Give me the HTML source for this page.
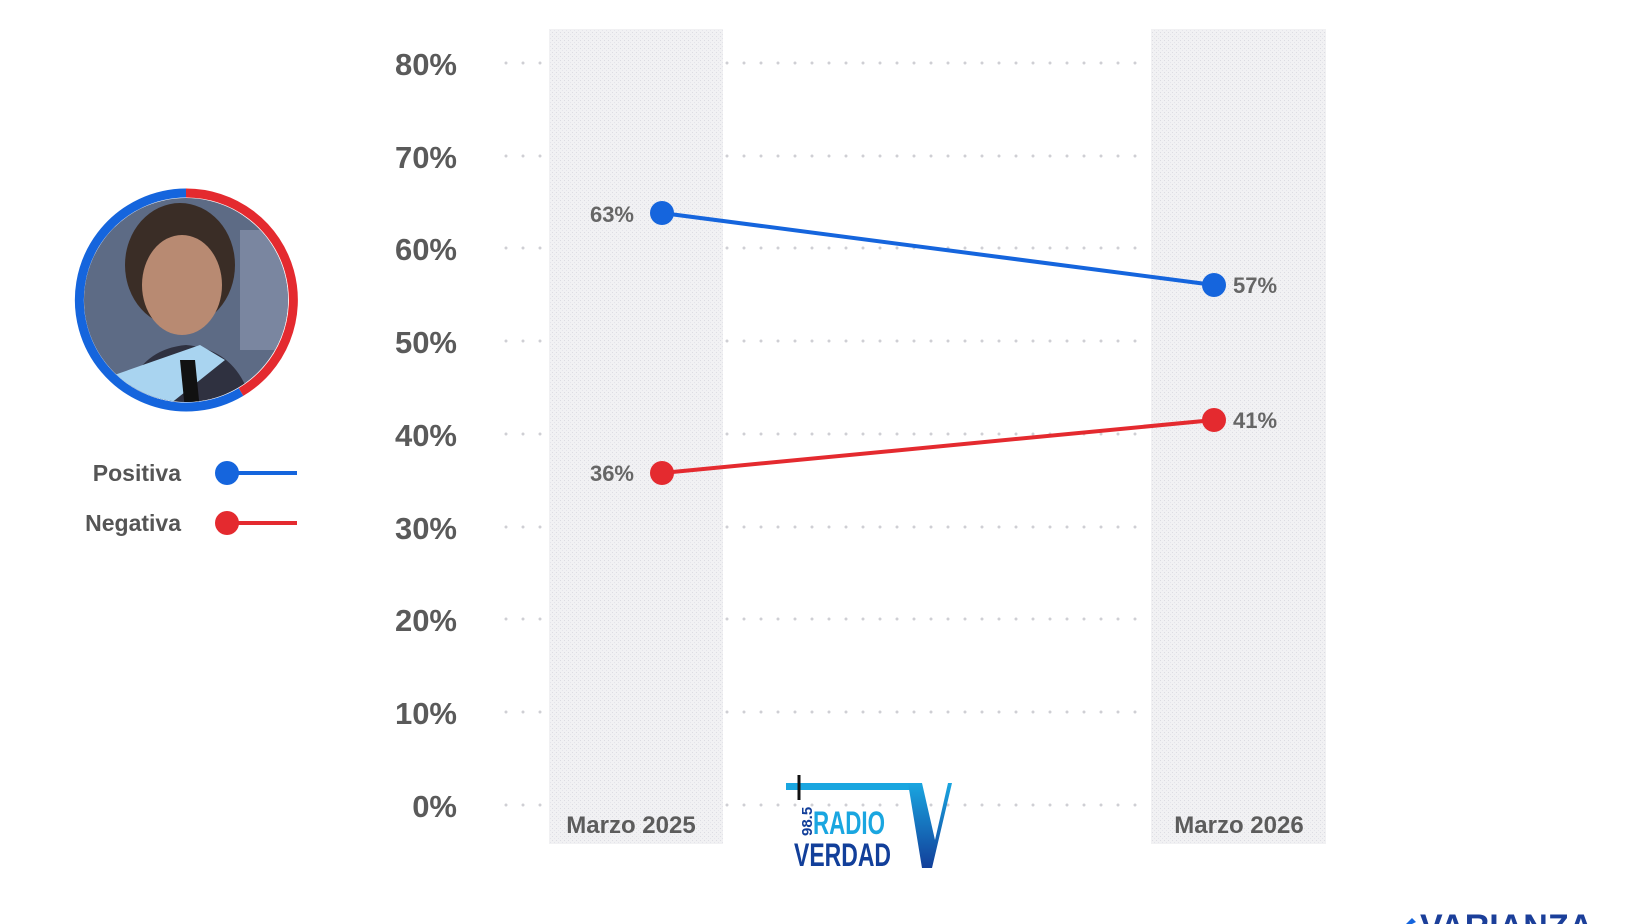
<!DOCTYPE html>
<html><head><meta charset="utf-8"><style>
html,body{margin:0;padding:0;background:#fff;}
svg{display:block;font-family:"Liberation Sans",sans-serif;}
</style></head><body>
<svg width="1640" height="924" viewBox="0 0 1640 924" xmlns="http://www.w3.org/2000/svg">
<defs>
<pattern id="dots" width="4" height="4" patternUnits="userSpaceOnUse">
<rect width="4" height="4" fill="#f1f1f3"/><rect width="1" height="1" fill="#dcdce2"/><rect x="2" y="2" width="1" height="1" fill="#e4e4ea"/>
</pattern>
<clipPath id="cc"><circle cx="186" cy="300" r="102"/></clipPath>
<linearGradient id="vg" x1="0" y1="0" x2="0" y2="1"><stop offset="0" stop-color="#1aa6e0"/><stop offset="1" stop-color="#123f9a"/></linearGradient>
</defs>
<!-- gridlines -->
<g stroke="#cfcfd4" stroke-width="3" stroke-linecap="round" stroke-dasharray="0 17">
<line x1="506" y1="63" x2="1146" y2="63"/>
<line x1="506" y1="156" x2="1146" y2="156"/>
<line x1="506" y1="248" x2="1146" y2="248"/>
<line x1="506" y1="341" x2="1146" y2="341"/>
<line x1="506" y1="434" x2="1146" y2="434"/>
<line x1="506" y1="527" x2="1146" y2="527"/>
<line x1="506" y1="619" x2="1146" y2="619"/>
<line x1="506" y1="712" x2="1146" y2="712"/>
<line x1="506" y1="805" x2="1146" y2="805"/>
</g>
<!-- bands -->
<rect x="549" y="29" width="174" height="815" fill="url(#dots)"/>
<rect x="1151" y="29" width="175" height="815" fill="url(#dots)"/>
<!-- y labels -->
<g font-size="31" font-weight="bold" fill="#5a5a5a" text-anchor="end">
<text x="457" y="75">80%</text>
<text x="457" y="168">70%</text>
<text x="457" y="260">60%</text>
<text x="457" y="353">50%</text>
<text x="457" y="446">40%</text>
<text x="457" y="539">30%</text>
<text x="457" y="631">20%</text>
<text x="457" y="724">10%</text>
<text x="457" y="817">0%</text>
</g>
<g font-size="24" font-weight="bold" fill="#5c5c5c" text-anchor="middle">
<text x="631" y="833">Marzo 2025</text>
<text x="1239" y="833">Marzo 2026</text>
</g>
<!-- series -->
<line x1="662" y1="213" x2="1214" y2="285" stroke="#1565dd" stroke-width="4"/>
<line x1="662" y1="473" x2="1214" y2="420" stroke="#e42a2f" stroke-width="4"/>
<circle cx="662" cy="213" r="12" fill="#1565dd"/>
<circle cx="1214" cy="285" r="12" fill="#1565dd"/>
<circle cx="662" cy="473" r="12" fill="#e42a2f"/>
<circle cx="1214" cy="420" r="12" fill="#e42a2f"/>
<g font-size="22" font-weight="bold" fill="#666">
<text x="634" y="222" text-anchor="end">63%</text>
<text x="634" y="481" text-anchor="end">36%</text>
<text x="1233" y="293">57%</text>
<text x="1233" y="428">41%</text>
</g>
<!-- portrait -->
<g clip-path="url(#cc)">
<rect x="80" y="195" width="215" height="215" fill="#5d6b85"/>
<rect x="240" y="230" width="60" height="120" fill="#7a86a0"/>
<path d="M120 420 Q130 350 186 345 Q245 350 255 420Z" fill="#2f3140"/>
<path d="M100 380 L200 345 L225 360 L150 420Z" fill="#a9d4f0"/>
<path d="M180 360 L195 360 L200 410 L185 410Z" fill="#111"/>
<ellipse cx="180" cy="265" rx="55" ry="62" fill="#3a2d26"/>
<ellipse cx="182" cy="285" rx="40" ry="50" fill="#b88a72"/>
</g>
<path d="M186 193 A107 107 0 0 1 241 392" fill="none" stroke="#e42a2f" stroke-width="9"/>
<path d="M241 392 A107 107 0 1 1 186 193" fill="none" stroke="#1565dd" stroke-width="9"/>
<!-- legend -->
<g font-size="23" font-weight="bold" fill="#555" text-anchor="end">
<text x="181" y="481">Positiva</text>
<text x="181" y="531">Negativa</text>
</g>
<line x1="227" y1="473" x2="297" y2="473" stroke="#1565dd" stroke-width="4"/>
<circle cx="227" cy="473" r="12" fill="#1565dd"/>
<line x1="227" y1="523" x2="297" y2="523" stroke="#e42a2f" stroke-width="4"/>
<circle cx="227" cy="523" r="12" fill="#e42a2f"/>
<!-- logo -->
<path d="M786 783 L916 783 L920 790 L786 790Z" fill="#1aa6e0"/>
<path d="M908 783 L922 783 L935 840 L948 783 L952 783 L932 868 L922 868Z" fill="url(#vg)"/>
<line x1="799" y1="775" x2="799" y2="800" stroke="#111" stroke-width="3"/>
<text x="0" y="0" transform="translate(812,836) rotate(-90)" font-size="15" font-weight="bold" fill="#123f9a">98.5</text>
<text x="813" y="834" font-size="32" font-weight="bold" fill="#1aa6e0" textLength="72" lengthAdjust="spacingAndGlyphs">RADIO</text>
<text x="794" y="866" font-size="32" font-weight="bold" fill="#123f9a" textLength="97" lengthAdjust="spacingAndGlyphs">VERDAD</text>
<!-- varianza -->
<path d="M1400 930 L1412 918 L1416 922Z" fill="#1565dd"/>
<text x="1420" y="938" font-size="34" fill="#1b3f9a" font-weight="bold">VARIANZA</text>
</svg>
</body></html>
